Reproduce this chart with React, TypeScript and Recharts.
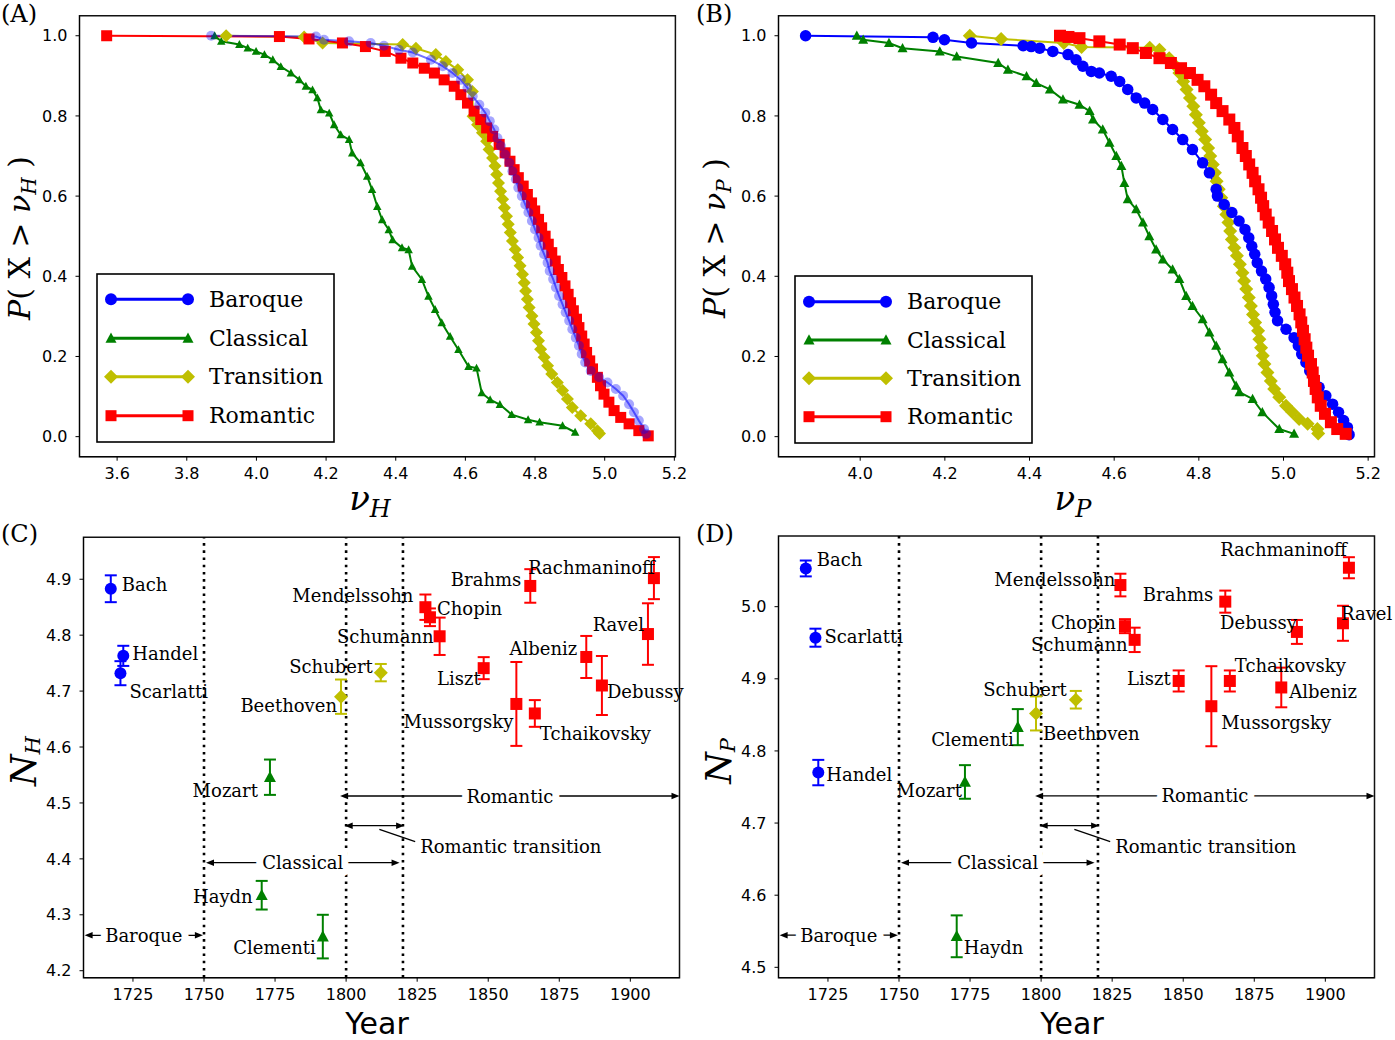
import React from "react";
import {
  ComposedChart,
  Line,
  Scatter,
  ErrorBar,
  XAxis,
  YAxis,
  ReferenceArea,
  ReferenceLine,
} from "recharts";

type Pt = [number, number];
type Anchor = "start" | "end";
type Period = "Baroque" | "Classical" | "Transition" | "Romantic";

const periods: Period[] = ["Baroque", "Classical", "Transition", "Romantic"];

// (A) P(X > nu_H)
const baroqueH: Pt[] = [
  [3.87, 1.0], [4.171, 0.998], [4.194, 0.99], [4.266, 0.986], [4.328, 0.982],
  [4.366, 0.975], [4.409, 0.965], [4.449, 0.958], [4.501, 0.94], [4.535, 0.924],
  [4.563, 0.907], [4.587, 0.89], [4.606, 0.87], [4.621, 0.849], [4.64, 0.828],
  [4.657, 0.808], [4.67, 0.787], [4.683, 0.766], [4.692, 0.745], [4.702, 0.725],
  [4.714, 0.704], [4.726, 0.683], [4.735, 0.662], [4.745, 0.642], [4.752, 0.621],
  [4.762, 0.6], [4.772, 0.579], [4.781, 0.559], [4.791, 0.538], [4.8, 0.517],
  [4.81, 0.496], [4.816, 0.476], [4.826, 0.455], [4.836, 0.434], [4.842, 0.413],
  [4.852, 0.393], [4.86, 0.372], [4.869, 0.351], [4.879, 0.33], [4.888, 0.31],
  [4.898, 0.289], [4.907, 0.268], [4.917, 0.247], [4.926, 0.227], [4.934, 0.206],
  [4.944, 0.185], [4.96, 0.164], [4.984, 0.148], [5.008, 0.135], [5.032, 0.119],
  [5.053, 0.102], [5.07, 0.081], [5.084, 0.061], [5.098, 0.04], [5.113, 0.019],
  [5.119, 0.007],
];
const classicalH: Pt[] = [
  [3.88, 1.0], [3.899, 0.986], [3.951, 0.978], [3.975, 0.969], [3.999, 0.961],
  [4.023, 0.953], [4.047, 0.94], [4.07, 0.923], [4.099, 0.907], [4.123, 0.89],
  [4.142, 0.874], [4.161, 0.865], [4.175, 0.845], [4.185, 0.815], [4.209, 0.807],
  [4.223, 0.778], [4.242, 0.753], [4.266, 0.741], [4.275, 0.707], [4.299, 0.683],
  [4.318, 0.649], [4.332, 0.616], [4.347, 0.574], [4.361, 0.541], [4.38, 0.516],
  [4.391, 0.491], [4.418, 0.471], [4.437, 0.466], [4.447, 0.425], [4.475, 0.392],
  [4.494, 0.35], [4.513, 0.317], [4.532, 0.284], [4.556, 0.25], [4.58, 0.217],
  [4.609, 0.175], [4.632, 0.171], [4.647, 0.109], [4.671, 0.092], [4.699, 0.08],
  [4.733, 0.055], [4.78, 0.042], [4.813, 0.036], [4.879, 0.027], [4.915, 0.011],
];
const transitionH: Pt[] = [
  [3.913, 1.0], [4.137, 0.997], [4.19, 0.982], [4.42, 0.978], [4.458, 0.969],
  [4.515, 0.953], [4.544, 0.936], [4.578, 0.915], [4.606, 0.89], [4.62, 0.861],
  [4.622, 0.799], [4.635, 0.778], [4.649, 0.758], [4.661, 0.737], [4.668, 0.716],
  [4.678, 0.695], [4.685, 0.675], [4.69, 0.654], [4.695, 0.633], [4.701, 0.612],
  [4.707, 0.592], [4.712, 0.571], [4.718, 0.55], [4.723, 0.53], [4.729, 0.509],
  [4.735, 0.488], [4.743, 0.467], [4.75, 0.447], [4.757, 0.426], [4.764, 0.405],
  [4.769, 0.384], [4.773, 0.363], [4.778, 0.343], [4.783, 0.322], [4.791, 0.301],
  [4.797, 0.281], [4.804, 0.26], [4.81, 0.239], [4.816, 0.218], [4.826, 0.198],
  [4.836, 0.177], [4.848, 0.156], [4.864, 0.135], [4.879, 0.115], [4.893, 0.094],
  [4.907, 0.073], [4.931, 0.052], [4.96, 0.032], [4.979, 0.015], [4.985, 0.008],
];
const romanticH: Pt[] = [
  [3.57, 1.0], [4.066, 0.998], [4.151, 0.992], [4.247, 0.982], [4.313, 0.973],
  [4.37, 0.961], [4.415, 0.944], [4.449, 0.932], [4.482, 0.919], [4.511, 0.907],
  [4.539, 0.89], [4.568, 0.874], [4.587, 0.853], [4.606, 0.832], [4.625, 0.812],
  [4.644, 0.791], [4.661, 0.77], [4.678, 0.749], [4.697, 0.729], [4.714, 0.708],
  [4.728, 0.687], [4.74, 0.666], [4.752, 0.646], [4.766, 0.625], [4.778, 0.604],
  [4.79, 0.583], [4.799, 0.563], [4.81, 0.542], [4.819, 0.521], [4.829, 0.5],
  [4.838, 0.48], [4.848, 0.459], [4.858, 0.438], [4.867, 0.417], [4.877, 0.397],
  [4.886, 0.376], [4.895, 0.355], [4.902, 0.334], [4.91, 0.314], [4.919, 0.293],
  [4.926, 0.272], [4.934, 0.251], [4.941, 0.231], [4.948, 0.21], [4.957, 0.189],
  [4.965, 0.169], [4.979, 0.148], [4.988, 0.127], [4.998, 0.106], [5.012, 0.086],
  [5.027, 0.065], [5.046, 0.048], [5.07, 0.032], [5.098, 0.015], [5.125, 0.002],
];

// (B) P(X > nu_P)
const baroqueP: Pt[] = [
  [3.871, 1.0], [4.172, 0.996], [4.199, 0.99], [4.263, 0.982], [4.385, 0.975],
  [4.404, 0.973], [4.424, 0.969], [4.455, 0.961], [4.491, 0.953], [4.51, 0.94],
  [4.526, 0.924], [4.546, 0.911], [4.565, 0.907], [4.593, 0.899], [4.613, 0.886],
  [4.632, 0.866], [4.652, 0.845], [4.672, 0.832], [4.691, 0.816], [4.715, 0.791],
  [4.738, 0.766], [4.762, 0.741], [4.785, 0.716], [4.809, 0.683], [4.825, 0.658],
  [4.841, 0.617], [4.844, 0.6], [4.86, 0.579], [4.878, 0.559], [4.895, 0.538],
  [4.909, 0.517], [4.918, 0.496], [4.925, 0.475], [4.932, 0.455], [4.938, 0.434],
  [4.948, 0.413], [4.958, 0.393], [4.966, 0.372], [4.972, 0.351], [4.976, 0.33],
  [4.98, 0.31], [4.986, 0.289], [5.006, 0.268], [5.025, 0.247], [5.035, 0.227],
  [5.043, 0.206], [5.053, 0.185], [5.062, 0.164], [5.072, 0.144], [5.084, 0.123],
  [5.1, 0.102], [5.116, 0.081], [5.13, 0.061], [5.142, 0.04], [5.151, 0.023],
  [5.155, 0.005],
];
const classicalP: Pt[] = [
  [3.992, 1.0], [4.007, 0.99], [4.068, 0.982], [4.1, 0.969], [4.188, 0.961],
  [4.228, 0.948], [4.326, 0.932], [4.349, 0.915], [4.393, 0.899], [4.416, 0.882],
  [4.448, 0.866], [4.479, 0.841], [4.518, 0.828], [4.542, 0.812], [4.55, 0.791],
  [4.573, 0.766], [4.589, 0.733], [4.605, 0.7], [4.617, 0.675], [4.624, 0.633],
  [4.632, 0.592], [4.652, 0.567], [4.668, 0.534], [4.683, 0.5], [4.699, 0.467],
  [4.715, 0.442], [4.738, 0.417], [4.754, 0.393], [4.77, 0.351], [4.785, 0.326],
  [4.809, 0.293], [4.825, 0.26], [4.841, 0.227], [4.856, 0.193], [4.872, 0.16],
  [4.888, 0.127], [4.896, 0.111], [4.927, 0.094], [4.95, 0.061], [4.99, 0.019],
  [5.025, 0.007],
];
const transitionP: Pt[] = [
  [4.259, 1.0], [4.333, 0.992], [4.481, 0.982], [4.523, 0.972], [4.684, 0.97],
  [4.707, 0.965], [4.73, 0.944], [4.742, 0.928], [4.754, 0.907], [4.763, 0.886],
  [4.771, 0.866], [4.779, 0.845], [4.787, 0.824], [4.793, 0.803], [4.8, 0.783],
  [4.807, 0.762], [4.815, 0.741], [4.822, 0.72], [4.827, 0.7], [4.833, 0.679],
  [4.838, 0.658], [4.842, 0.637], [4.847, 0.617], [4.853, 0.596], [4.859, 0.575],
  [4.865, 0.554], [4.87, 0.534], [4.874, 0.513], [4.878, 0.492], [4.884, 0.471],
  [4.89, 0.451], [4.897, 0.43], [4.903, 0.409], [4.907, 0.388], [4.912, 0.368],
  [4.918, 0.347], [4.923, 0.326], [4.928, 0.305], [4.933, 0.285], [4.94, 0.264],
  [4.943, 0.243], [4.947, 0.222], [4.951, 0.202], [4.955, 0.181], [4.962, 0.16],
  [4.97, 0.139], [4.978, 0.119], [4.99, 0.098], [5.006, 0.077], [5.021, 0.061],
  [5.037, 0.044], [5.057, 0.032], [5.08, 0.019], [5.082, 0.008],
];
const romanticP: Pt[] = [
  [4.472, 1.0], [4.492, 0.997], [4.518, 0.994], [4.565, 0.986], [4.613, 0.978],
  [4.644, 0.969], [4.675, 0.957], [4.707, 0.944], [4.734, 0.932], [4.758, 0.919],
  [4.779, 0.907], [4.797, 0.89], [4.813, 0.874], [4.829, 0.853], [4.841, 0.832],
  [4.856, 0.812], [4.872, 0.791], [4.884, 0.77], [4.892, 0.749], [4.903, 0.72],
  [4.911, 0.7], [4.919, 0.679], [4.927, 0.658], [4.933, 0.637], [4.941, 0.617],
  [4.947, 0.596], [4.952, 0.575], [4.958, 0.554], [4.965, 0.534], [4.973, 0.513],
  [4.98, 0.492], [4.987, 0.471], [4.996, 0.451], [5.004, 0.43], [5.009, 0.409],
  [5.013, 0.388], [5.02, 0.368], [5.026, 0.347], [5.032, 0.326], [5.038, 0.305],
  [5.042, 0.285], [5.046, 0.264], [5.05, 0.243], [5.054, 0.222], [5.058, 0.202],
  [5.065, 0.181], [5.069, 0.16], [5.072, 0.139], [5.076, 0.119], [5.081, 0.098],
  [5.088, 0.077], [5.098, 0.057], [5.112, 0.036], [5.127, 0.019], [5.147, 0.007],
];

const ticksA = [3.6, 3.8, 4.0, 4.2, 4.4, 4.6, 4.8, 5.0, 5.2];
const ticksB = [4.0, 4.2, 4.4, 4.6, 4.8, 5.0, 5.2];
const probTicks = [0, 0.2, 0.4, 0.6, 0.8, 1.0];
const yearTicks = [1725, 1750, 1775, 1800, 1825, 1850, 1875, 1900];
const nHTicks = [4.2, 4.3, 4.4, 4.5, 4.6, 4.7, 4.8, 4.9];
const nPTicks = [4.5, 4.6, 4.7, 4.8, 4.9, 5.0];

// (C) / (D) composers
const composers = [
  "Bach", "Handel", "Scarlatti", "Mozart", "Haydn", "Clementi", "Beethoven",
  "Schubert", "Mendelssohn", "Chopin", "Schumann", "Liszt", "Brahms",
  "Mussorgsky", "Tchaikovsky", "Albeniz", "Debussy", "Ravel", "Rachmaninoff",
];
const composerPeriod: Period[] = [
  "Baroque", "Baroque", "Baroque", "Classical", "Classical", "Classical",
  "Transition", "Transition", "Romantic", "Romantic", "Romantic", "Romantic",
  "Romantic", "Romantic", "Romantic", "Romantic", "Romantic", "Romantic", "Romantic",
];
const composerYear = [
  1717.2, 1721.6, 1720.6, 1773.2, 1770.3, 1791.8, 1798.2, 1812.2, 1827.9, 1829.5,
  1832.9, 1848.4, 1864.8, 1859.9, 1866.4, 1884.5, 1890.0, 1906.2, 1908.3,
];
const nH = [
  4.883, 4.763, 4.732, 4.546, 4.335, 4.261, 4.69, 4.733, 4.85, 4.832,
  4.798, 4.741, 4.888, 4.677, 4.66, 4.761, 4.71, 4.802, 4.902,
];
const nHErr = [
  0.024, 0.018, 0.0215, 0.0316, 0.0256, 0.039, 0.0307, 0.0155, 0.0227, 0.0158,
  0.0334, 0.0197, 0.03, 0.075, 0.0239, 0.0376, 0.0528, 0.055, 0.0376,
];
const nP = [
  5.053, 4.77, 4.957, 4.757, 4.543, 4.833, 4.852, 4.871, 5.03, 4.973,
  4.954, 4.897, 5.007, 4.862, 4.897, 4.888, 4.965, 4.977, 5.054,
];
const nPErr = [
  0.011, 0.0176, 0.0125, 0.0233, 0.029, 0.025, 0.0236, 0.0122, 0.0157, 0.0097,
  0.0169, 0.0146, 0.0153, 0.0555, 0.0146, 0.0275, 0.0166, 0.0243, 0.0146,
];

// era boundaries and the annotated spans (years)
const eraLines = [1750, 1800, 1820];
const eraSpans: { name: string; from: number; to: number }[] = [
  { name: "Baroque", from: 1708.0, to: 1749.6 },
  { name: "Classical", from: 1750.7, to: 1818.8 },
  { name: "Romantic", from: 1797.9, to: 1917.3 },
  { name: "", from: 1799.5, to: 1820.4 },
];
const eraLevelsC = [4.2633, 4.3931, 4.5124, 4.4593];
const eraLevelsD = [4.5445, 4.6451, 4.7376, 4.6964];

const SERIF = "'DejaVu Serif', serif";
const SANS = "'DejaVu Sans', sans-serif";
const COLORS: Record<Period, string> = {
  Baroque: "#0000ff",
  Classical: "#008000",
  Transition: "#bfbf00",
  Romantic: "#ff0000",
};
const SHAPES: Record<Period, string> = {
  Baroque: "circle",
  Classical: "triangle",
  Transition: "diamond",
  Romantic: "square",
};

// label placement next to each point: [dx, dy, anchor] in pixels
const placeC: Record<string, [number, number, Anchor]> = {
  Bach: [11, -4, "start"], Handel: [9, -2, "start"], Scarlatti: [9, 18, "start"],
  Mozart: [-12, 13, "end"], Haydn: [-9, 1, "end"], Clementi: [-7, 11, "end"],
  Beethoven: [-4, 9, "end"], Schubert: [-8, -6, "end"], Mendelssohn: [-12, -12, "end"],
  Chopin: [7, -9, "start"], Schumann: [-6, 0, "end"], Liszt: [-3, 10, "end"],
  Brahms: [-9, -6, "end"], Rachmaninoff: [1, -11, "end"], Albeniz: [-9, -8, "end"],
  Ravel: [-4, -10, "end"], Debussy: [5, 6, "start"], Mussorgsky: [-3, 18, "end"],
  Tchaikovsky: [5, 20, "start"],
};
const placeD: Record<string, [number, number, Anchor]> = {
  Bach: [11, -9, "start"], Scarlatti: [9, -1, "start"], Handel: [8, 2, "start"],
  Mozart: [-3, 9, "end"], Haydn: [7, 11, "start"], Clementi: [-4, 12, "end"],
  Beethoven: [7, 20, "start"], Schubert: [-9, -10, "end"], Mendelssohn: [-5, -6, "end"],
  Chopin: [-9, -4, "end"], Schumann: [-7, 5, "end"], Liszt: [-8, -2, "end"],
  Brahms: [-12, -7, "end"], Rachmaninoff: [-2, -18, "end"], Debussy: [0, -9, "end"],
  Ravel: [-2, -10, "start"], Tchaikovsky: [5, -15, "start"], Albeniz: [8, 4, "start"],
  Mussorgsky: [10, 16, "start"],
};

type MarkerProps = {
  kind: string;
  cx: number;
  cy: number;
  size: number;
  color: string;
  opacity?: number;
};

function Marker({ kind, cx, cy, size, color, opacity = 1 }: MarkerProps) {
  const h = size / 2;
  if (cx == null || cy == null || isNaN(cx) || isNaN(cy)) return null;
  if (kind === "circle")
    return <circle cx={cx} cy={cy} r={h} fill={color} fillOpacity={opacity} />;
  if (kind === "square")
    return <rect x={cx - h} y={cy - h} width={size} height={size} fill={color} fillOpacity={opacity} />;
  if (kind === "triangle")
    return (
      <polygon
        points={`${cx},${cy - h * 1.05} ${cx + h},${cy + h * 0.8} ${cx - h},${cy + h * 0.8}`}
        fill={color}
        fillOpacity={opacity}
      />
    );
  return (
    <polygon
      points={`${cx},${cy - h} ${cx + h},${cy} ${cx},${cy + h} ${cx - h},${cy}`}
      fill={color}
      fillOpacity={opacity}
    />
  );
}

type Box = { left: number; top: number; w: number; h: number };
type Plot = { l: number; t: number; r: number; b: number };
const YW = 50;
const XH = 30;

function marginsFor(box: Box, plot: Plot) {
  return {
    top: plot.t - box.top,
    bottom: box.top + box.h - plot.b - XH,
    left: plot.l - box.left - YW,
    right: box.left + box.w - plot.r,
  };
}

const tickStyle = { fill: "#000", fontSize: 16, fontFamily: SANS };

type Curve = { period: Period; points: Pt[] };

function SurvivalPanel({
  box,
  plot,
  xDomain,
  xTicks,
  curves,
  markerSizes,
  faded,
}: {
  box: Box;
  plot: Plot;
  xDomain: [number, number];
  xTicks: number[];
  curves: Curve[];
  markerSizes: Record<Period, number>;
  faded?: Period;
}) {
  const yDomain: [number, number] = [-0.05, 1.05];
  return (
    <div style={{ position: "absolute", left: box.left, top: box.top }}>
      <ComposedChart width={box.w} height={box.h} margin={marginsFor(box, plot)}>
        <XAxis
          type="number"
          dataKey="v"
          domain={xDomain}
          ticks={xTicks}
          tickFormatter={(t: number) => t.toFixed(1)}
          tick={tickStyle}
          tickSize={4}
          tickMargin={7}
          height={XH}
          axisLine={{ stroke: "#000" }}
          tickLine={{ stroke: "#000" }}
          allowDataOverflow
        />
        <YAxis
          type="number"
          dataKey="p"
          domain={yDomain}
          ticks={probTicks}
          tickFormatter={(t: number) => t.toFixed(1)}
          tick={tickStyle}
          tickSize={4}
          tickMargin={8}
          width={YW}
          axisLine={{ stroke: "#000" }}
          tickLine={{ stroke: "#000" }}
          allowDataOverflow
        />
        <ReferenceArea
          x1={xDomain[0]}
          x2={xDomain[1]}
          y1={yDomain[0]}
          y2={yDomain[1]}
          fill="none"
          stroke="#111"
          strokeWidth={1.5}
          ifOverflow="visible"
        />
        {curves.map((c) => {
          const color = COLORS[c.period];
          const fade = c.period === faded;
          return (
            <Line
              key={c.period}
              data={c.points.map(([v, p]) => ({ v, p }))}
              dataKey="p"
              type="linear"
              stroke={color}
              strokeOpacity={fade ? 0.55 : 1}
              strokeWidth={2}
              isAnimationActive={false}
              activeDot={false}
              dot={(d: any) => (
                <Marker
                  key={`${c.period}-${d.index}`}
                  kind={SHAPES[c.period]}
                  cx={d.cx}
                  cy={d.cy}
                  size={markerSizes[c.period]}
                  color={color}
                  opacity={fade ? 0.35 : 1}
                />
              )}
            />
          );
        })}
      </ComposedChart>
    </div>
  );
}

function arrowShape(text: string) {
  return (p: any) => {
    const { x1, y1, x2, y2 } = p;
    const head = 8;
    const hw = 3.2;
    const mx = (x1 + x2) / 2;
    return (
      <g>
        <line x1={x1 + head - 1} y1={y1} x2={x2 - head + 1} y2={y2} stroke="#000" strokeWidth={1.3} />
        <polygon points={`${x1},${y1} ${x1 + head},${y1 - hw} ${x1 + head},${y1 + hw}`} fill="#000" />
        <polygon points={`${x2},${y2} ${x2 - head},${y2 - hw} ${x2 - head},${y2 + hw}`} fill="#000" />
        {text ? (
          <text
            x={mx}
            y={y1}
            textAnchor="middle"
            dominantBaseline="central"
            fontFamily={SERIF}
            fontSize={18}
            fill="#000"
            stroke="#fff"
            strokeWidth={14}
            strokeLinejoin="round"
            style={{ paintOrder: "stroke" }}
          >
            {text}
          </text>
        ) : null}
      </g>
    );
  };
}

const leaderShape = (p: any) => {
  const { x1, y1, x2, y2 } = p;
  return (
    <g>
      <line x1={x1} y1={y1} x2={x2} y2={y2} stroke="#000" strokeWidth={1.3} />
      <text
        x={x2 + 5}
        y={y2 + 5}
        dominantBaseline="central"
        fontFamily={SERIF}
        fontSize={18}
        fill="#000"
      >
        Romantic transition
      </text>
    </g>
  );
};

function ComposerPanel({
  box,
  plot,
  yDomain,
  yTicks,
  values,
  errors,
  levels,
  leader,
  place,
}: {
  box: Box;
  plot: Plot;
  yDomain: [number, number];
  yTicks: number[];
  values: number[];
  errors: number[];
  levels: number[];
  leader: [number, number][];
  place: Record<string, [number, number, Anchor]>;
}) {
  const xDomain: [number, number] = [1707.6, 1917.3];
  const rows = composers.map((name, i) => ({
    name,
    period: composerPeriod[i],
    year: composerYear[i],
    n: values[i],
    err: errors[i],
  }));
  return (
    <div style={{ position: "absolute", left: box.left, top: box.top }}>
      <ComposedChart width={box.w} height={box.h} margin={marginsFor(box, plot)}>
        <XAxis
          type="number"
          dataKey="year"
          domain={xDomain}
          ticks={yearTicks}
          tick={tickStyle}
          tickSize={4}
          tickMargin={7}
          height={XH}
          axisLine={{ stroke: "#000" }}
          tickLine={{ stroke: "#000" }}
        />
        <YAxis
          type="number"
          dataKey="n"
          domain={yDomain}
          ticks={yTicks}
          tickFormatter={(t: number) => t.toFixed(1)}
          tick={tickStyle}
          tickSize={4}
          tickMargin={8}
          width={YW}
          axisLine={{ stroke: "#000" }}
          tickLine={{ stroke: "#000" }}
        />
        <ReferenceArea
          x1={xDomain[0]}
          x2={xDomain[1]}
          y1={yDomain[0]}
          y2={yDomain[1]}
          fill="none"
          stroke="#111"
          strokeWidth={1.5}
          ifOverflow="visible"
        />
        {eraLines.map((yr) => (
          <ReferenceLine
            key={yr}
            x={yr}
            stroke="#000"
            strokeWidth={2.6}
            strokeDasharray="2.6 4.6"
          />
        ))}
        {eraSpans.map((s, i) => (
          <ReferenceLine
            key={`span-${i}`}
            segment={[
              { x: s.from, y: levels[i] },
              { x: s.to, y: levels[i] },
            ]}
            ifOverflow="visible"
            shape={arrowShape(s.name)}
          />
        ))}
        <ReferenceLine
          segment={[
            { x: leader[0][0], y: leader[0][1] },
            { x: leader[1][0], y: leader[1][1] },
          ]}
          ifOverflow="visible"
          shape={leaderShape}
        />
        {periods.map((per) => {
          const color = COLORS[per];
          return (
            <Scatter
              key={per}
              data={rows.filter((r) => r.period === per)}
              fill={color}
              isAnimationActive={false}
              shape={(p: any) => {
                const [dx, dy, anchor] = place[p.payload.name];
                return (
                  <g>
                    <Marker kind={SHAPES[per]} cx={p.cx} cy={p.cy} size={per === "Transition" ? 14 : 12} color={color} />
                    <text
                      x={p.cx + dx}
                      y={p.cy + dy}
                      textAnchor={anchor}
                      dominantBaseline="central"
                      fontFamily={SERIF}
                      fontSize={18}
                      fill="#000"
                    >
                      {p.payload.name}
                    </text>
                  </g>
                );
              }}
            >
              <ErrorBar dataKey="err" direction="y" width={6} stroke={color} strokeWidth={2} />
            </Scatter>
          );
        })}
      </ComposedChart>
    </div>
  );
}

function LegendBox({
  x,
  y,
  w,
  h,
  rowsY,
  lineX,
  textX,
}: {
  x: number;
  y: number;
  w: number;
  h: number;
  rowsY: number[];
  lineX: [number, number];
  textX: number;
}) {
  const sizes: Record<Period, number> = { Baroque: 12, Classical: 11, Transition: 14, Romantic: 11 };
  return (
    <g>
      <rect x={x} y={y} width={w} height={h} fill="#fff" stroke="#000" strokeWidth={1.6} />
      {periods.map((per, i) => (
        <g key={per}>
          <line x1={lineX[0]} y1={rowsY[i]} x2={lineX[1]} y2={rowsY[i]} stroke={COLORS[per]} strokeWidth={3} />
          <Marker kind={SHAPES[per]} cx={lineX[0]} cy={rowsY[i]} size={sizes[per]} color={COLORS[per]} />
          <Marker kind={SHAPES[per]} cx={lineX[1]} cy={rowsY[i]} size={sizes[per]} color={COLORS[per]} />
          <text x={textX} y={rowsY[i] + 7.5} fontFamily={SERIF} fontSize={22} fill="#000">
            {per}
          </text>
        </g>
      ))}
    </g>
  );
}

function Overlay() {
  const legendRowsA = [299.3, 338.3, 376.7, 415.7];
  const legendRowsB = [301.7, 340, 378.3, 416.7];
  return (
    <svg
      width={1395}
      height={1040}
      style={{ position: "absolute", left: 0, top: 0, pointerEvents: "none" }}
    >
      <g fontFamily={SERIF} fontSize={24} fill="#000">
        <text x={1} y={22}>(A)</text>
        <text x={696} y={22}>(B)</text>
        <text x={1} y={542}>(C)</text>
        <text x={696} y={542}>(D)</text>
      </g>

      {[
        { x: 30, sub: "H" },
        { x: 725, sub: "P" },
      ].map((t) => (
        <text
          key={t.sub}
          transform={`translate(${t.x}, 238) rotate(-90)`}
          textAnchor="middle"
          fontFamily={SERIF}
          fontSize={30}
          fill="#000"
        >
          <tspan fontStyle="italic">P</tspan>
          <tspan>( X &gt; </tspan>
          <tspan fontStyle="italic">ν</tspan>
          <tspan fontStyle="italic" fontSize={20} dy={6}>{t.sub}</tspan>
          <tspan dy={-6}> )</tspan>
        </text>
      ))}

      {[
        { x: 370, sub: "H" },
        { x: 1073, sub: "P" },
      ].map((t) => (
        <text key={t.sub} x={t.x} y={510} textAnchor="middle" fontFamily={SERIF} fill="#000">
          <tspan fontStyle="italic" fontSize={34}>ν</tspan>
          <tspan fontStyle="italic" fontSize={24} dy={7}>{t.sub}</tspan>
        </text>
      ))}

      {[
        { x: 36, sub: "H" },
        { x: 731, sub: "P" },
      ].map((t) => (
        <text
          key={t.sub}
          transform={`translate(${t.x}, 761) rotate(-90)`}
          textAnchor="middle"
          fontFamily={SERIF}
          fill="#000"
        >
          <tspan fontStyle="italic" fontSize={36}>N</tspan>
          <tspan fontStyle="italic" fontSize={21} dy={4}>{t.sub}</tspan>
        </text>
      ))}

      {[377, 1072].map((x) => (
        <text key={x} x={x} y={1034} textAnchor="middle" fontFamily={SANS} fontSize={30} fill="#000">
          Year
        </text>
      ))}

      <LegendBox x={97} y={274} w={237} h={168} rowsY={legendRowsA} lineX={[111, 188]} textX={209} />
      <LegendBox x={795} y={276} w={237} h={167} rowsY={legendRowsB} lineX={[809, 886]} textX={907} />
    </svg>
  );
}

export default function App() {
  return (
    <div
      style={{
        position: "absolute",
        left: 0,
        top: 0,
        width: 1395,
        height: 1040,
        background: "#fff",
      }}
    >
      <SurvivalPanel
        box={{ left: 0, top: 0, w: 695, h: 500 }}
        plot={{ l: 79.5, t: 15.7, r: 675.4, b: 456.7 }}
        xDomain={[3.492, 5.203]}
        xTicks={ticksA}
        curves={[
          { period: "Classical", points: classicalH },
          { period: "Transition", points: transitionH },
          { period: "Romantic", points: romanticH },
          { period: "Baroque", points: baroqueH },
        ]}
        markerSizes={{ Baroque: 10, Classical: 8.5, Transition: 13, Romantic: 11 }}
        faded="Baroque"
      />
      <SurvivalPanel
        box={{ left: 695, top: 0, w: 700, h: 500 }}
        plot={{ l: 778.5, t: 15.7, r: 1374.5, b: 456.7 }}
        xDomain={[3.807, 5.215]}
        xTicks={ticksB}
        curves={[
          { period: "Classical", points: classicalP },
          { period: "Transition", points: transitionP },
          { period: "Baroque", points: baroqueP },
          { period: "Romantic", points: romanticP },
        ]}
        markerSizes={{ Baroque: 11.5, Classical: 10, Transition: 14, Romantic: 12 }}
      />
      <ComposerPanel
        box={{ left: 0, top: 520, w: 695, h: 520 }}
        plot={{ l: 83.5, t: 537.3, r: 679.5, b: 977.7 }}
        yDomain={[4.1875, 4.975]}
        yTicks={nHTicks}
        values={nH}
        errors={nHErr}
        levels={eraLevelsC}
        leader={[
          [1811.7, 4.4529],
          [1824.3, 4.4307],
        ]}
        place={placeC}
      />
      <ComposerPanel
        box={{ left: 695, top: 520, w: 700, h: 520 }}
        plot={{ l: 778.5, t: 536, r: 1374.5, b: 977.7 }}
        yDomain={[4.4856, 5.098]}
        yTicks={nPTicks}
        values={nP}
        errors={nPErr}
        levels={eraLevelsD}
        leader={[
          [1811.7, 4.6914],
          [1824.3, 4.6742],
        ]}
        place={placeD}
      />
      <Overlay />
    </div>
  );
}
